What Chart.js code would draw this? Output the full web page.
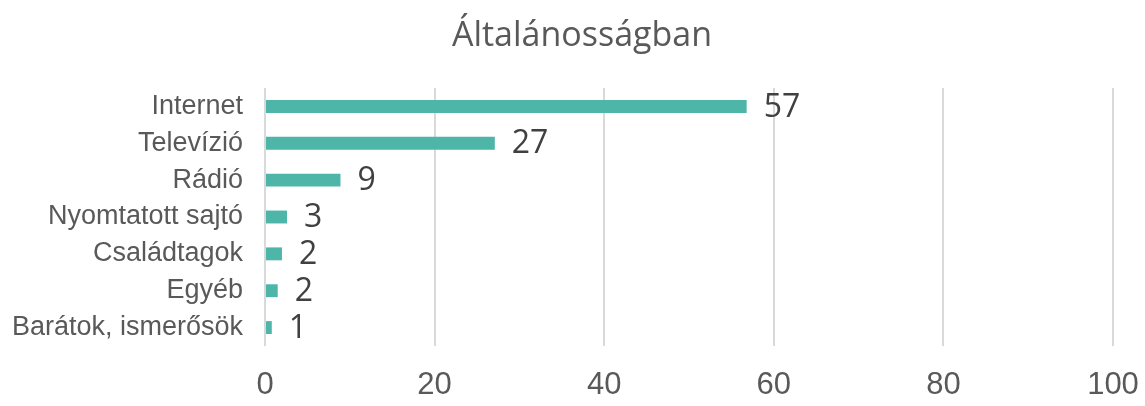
<!DOCTYPE html>
<html>
<head>
<meta charset="utf-8">
<script src="https://cdn.jsdelivr.net/npm/chart.js@4"></script>
<style>
  html, body { margin: 0; padding: 0; background: #fff; }
</style>
</head>
<body>
<canvas id="chart" width="1145" height="406"></canvas>
<script>
// Data
const chartTitle = 'Általánosságban';
const categories = ['Internet', 'Televízió', 'Rádió', 'Nyomtatott sajtó', 'Családtagok', 'Egyéb', 'Barátok, ismerősök'];
const values = [56.8, 27.1, 8.9, 2.6, 2.0, 1.5, 0.8];
const shownLabels = ['57', '27', '9', '3', '2', '2', '1'];
const xMin = 0;
const xMax = 100;
const xStep = 20;

// Title is drawn by hand so it can sit a little right of the canvas centre
const titleDraw = {
  id: 'titleDraw',
  afterDraw(chart) {
    const ctx = chart.ctx;
    ctx.save();
    ctx.font = '34px "Open Sans"';
    ctx.fillStyle = '#595959';
    ctx.textAlign = 'center';
    ctx.textBaseline = 'alphabetic';
    ctx.fillText(chartTitle, 582, 46);
    ctx.restore();
  }
};

// Draw value labels next to the bar ends
const valueLabels = {
  id: 'valueLabels',
  afterDatasetsDraw(chart) {
    const ctx = chart.ctx;
    const meta = chart.getDatasetMeta(0);
    ctx.save();
    ctx.font = '32px "Open Sans"';
    ctx.fillStyle = '#404040';
    ctx.textAlign = 'left';
    ctx.textBaseline = 'middle';
    meta.data.forEach((bar, i) => {
      ctx.fillText(shownLabels[i], bar.x + 17, bar.y + 1);
    });
    ctx.restore();
  }
};

new Chart(document.getElementById('chart').getContext('2d'), {
  type: 'bar',
  data: {
    labels: categories,
    datasets: [{
      data: values,
      backgroundColor: '#4EB5A9',
      borderWidth: 0,
      categoryPercentage: 1,
      barPercentage: 0.35
    }]
  },
  options: {
    indexAxis: 'y',
    responsive: false,
    animation: false,
    layout: { padding: { left: 0, right: 32, top: 88, bottom: 0 } },
    plugins: {
      legend: { display: false },
      tooltip: { enabled: false },
      title: { display: false }
    },
    scales: {
      x: {
        min: xMin,
        max: xMax,
        afterFit(scale) {
          scale.height = 60;
          scale.paddingLeft = 0;
          scale.paddingRight = 0;
        },
        ticks: {
          stepSize: xStep,
          color: '#595959',
          font: { family: '"Liberation Sans"', size: 31 },
          padding: 21
        },
        grid: { color: '#d9d9d9', lineWidth: 2, drawTicks: false },
        border: { display: false }
      },
      y: {
        afterFit(scale) {
          scale.width = 265;
          scale.paddingTop = 0;
          scale.paddingBottom = 0;
        },
        ticks: {
          color: '#595959',
          font: { family: '"Liberation Sans"', size: 27 },
          padding: 22
        },
        grid: { display: false, drawTicks: false },
        border: { display: false }
      }
    }
  },
  plugins: [valueLabels, titleDraw]
});
</script>
</body>
</html>
